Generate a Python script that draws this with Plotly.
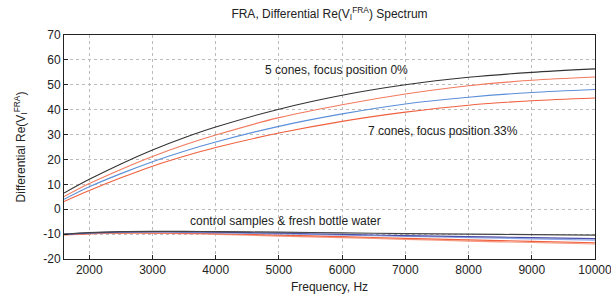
import plotly.graph_objects as go

freq = [1600, 2000, 2500, 3000, 3500, 4000, 5000, 6000, 7000, 8000, 9000, 10000]

# 5 / 7 cones group
cone_black = [6.5, 12.0, 18.2, 23.8, 28.7, 33.0, 40.2, 45.8, 50.0, 53.0, 55.0, 56.4]
cone_red1 = [5.1, 10.3, 16.0, 21.2, 25.8, 29.8, 36.8, 42.0, 46.3, 49.6, 51.8, 53.1]
cone_blue = [4.0, 9.0, 14.3, 19.1, 23.3, 27.0, 33.3, 38.3, 42.3, 45.0, 46.9, 48.1]
cone_red2 = [3.1, 7.5, 12.6, 17.3, 21.3, 24.8, 30.6, 35.3, 39.0, 41.8, 43.6, 44.7]

# control samples group
ctrl_black = [-10.0, -9.4, -9.0, -8.9, -8.9, -9.0, -9.2, -9.5, -9.8, -10.0, -10.2, -10.4]
ctrl_navy = [-10.1, -9.5, -9.1, -9.0, -9.1, -9.2, -9.6, -10.1, -10.6, -11.0, -11.4, -11.8]
ctrl_blue = [-10.1, -9.6, -9.3, -9.2, -9.3, -9.5, -9.9, -10.4, -10.9, -11.4, -11.9, -12.4]
ctrl_red = [-10.2, -9.8, -9.5, -9.5, -9.6, -9.8, -10.4, -11.0, -11.7, -12.3, -12.9, -13.5]
ctrl_salmon = [-10.3, -9.9, -9.7, -9.7, -9.8, -10.1, -10.8, -11.4, -12.1, -12.8, -13.4, -14.0]

x_ticks = [2000, 3000, 4000, 5000, 6000, 7000, 8000, 9000, 10000]
x_tick_labels = ["2000", "3000", "4000", "5000", "6000", "7000", "8000", "9000", "10000"]
y_ticks = [-20, -10, 0, 10, 20, 30, 40, 50, 60, 70]
y_tick_labels = ["-20", "-10", "0", "10", "20", "30", "40", "50", "60", "70"]

series = [
    (ctrl_salmon, "#F59A80"),
    (ctrl_red, "#F0603E"),
    (ctrl_blue, "#8FA8E8"),
    (ctrl_navy, "#4B4FA8"),
    (ctrl_black, "#444444"),
    (cone_red2, "#F0603E"),
    (cone_blue, "#5B8FD9"),
    (cone_red1, "#F27A5E"),
    (cone_black, "#333333"),
]

fig = go.Figure()
for ys, col in series:
    fig.add_trace(go.Scatter(x=freq, y=ys, mode="lines",
                             line=dict(color=col, width=1.1, shape="spline", smoothing=0.8),
                             showlegend=False, hoverinfo="skip"))

font = dict(family="Liberation Sans, Arial, sans-serif", size=12, color="#222222")

annots = [
    ("5 cones, focus position 0%", 5918, 55.9),
    ("7 cones, focus position 33%", 7595, 31.5),
    ("control samples & fresh bottle water", 5104, -4.6),
]
for txt, ax, ay in annots:
    fig.add_annotation(x=ax, y=ay, text=txt, showarrow=False, font=font, xanchor="center", yanchor="middle")

axis_common = dict(showline=True, linecolor="#222222", linewidth=1, mirror=True,
                   showgrid=True, gridcolor="#BBBBBB", griddash="dot", gridwidth=1,
                   ticks="inside", ticklen=4, tickcolor="#222222", zeroline=False,
                   tickfont=font, automargin=False, ticklabeloverflow="allow")

fig.update_xaxes(range=[1600, 10000], tickvals=x_ticks, ticktext=x_tick_labels,
                 title=dict(text="Frequency, Hz", font=font, standoff=6), **axis_common)
fig.update_yaxes(range=[-20, 70], tickvals=y_ticks, ticktext=y_tick_labels,
                 title=dict(text="Differential Re(V<sub>I</sub><sup>FRA</sup>)", font=font),
                 **axis_common)

fig.update_layout(
    width=611, height=303,
    margin=dict(l=64, r=16, t=35, b=44),
    plot_bgcolor="white", paper_bgcolor="white",
    title=dict(text="FRA, Differential Re(V<sub>I</sub><sup>FRA</sup>) Spectrum", font=font,
               x=(64 + 595) / 2 / 611, xanchor="center", y=0.955, yanchor="middle"),
    font=font,
)

fig.write_html("out.html", config={"displayModeBar": False},
               post_script="document.body.style.margin='0';document.body.style.overflow='hidden';")
